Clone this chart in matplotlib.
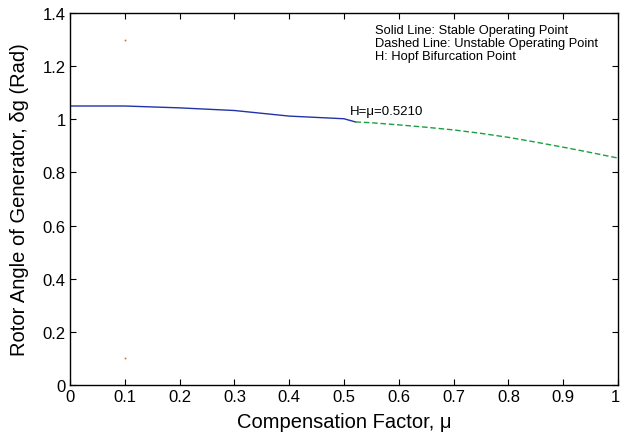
import numpy as np
import matplotlib.pyplot as plt
import matplotlib.transforms as mtransforms

plt.rcParams['font.family'] = ['Liberation Sans', 'DejaVu Sans']

# stable branch (solid) up to the Hopf point, unstable branch (dashed) after it
mu_stable = [0.0, 0.1, 0.2, 0.3, 0.4, 0.5, 0.521]
delta_stable = [1.05, 1.05, 1.043, 1.033, 1.012, 1.002, 0.990]
mu_unstable = [0.521, 0.55, 0.6, 0.65, 0.7, 0.75, 0.8, 0.85, 0.9, 0.95, 1.0]
delta_unstable = [0.990, 0.987, 0.979, 0.970, 0.960, 0.947, 0.932, 0.914, 0.895, 0.875, 0.854]
mu_hopf = 0.5210

# stray markers
mu_marks = [0.1, 0.1]
delta_marks = [1.3, 0.1]

fig = plt.figure(figsize=(6.2, 4.39), dpi=100)
ax = fig.add_axes([70/620, 1 - 386/439, 548/620, 372/439])

ax.plot(mu_stable, delta_stable, color='#2233aa', lw=1.0)
ax.plot(mu_unstable, delta_unstable, color='#1aa040', lw=1.0, ls=(0, (4, 2)))
ax.plot(mu_marks, delta_marks, ls='none', marker='s', ms=1.2, color='#e8601a', mec='none')

ax.text(0.511, 1.02, f'H=\u03bc={mu_hopf:.4f}', fontsize=9.5)
ax.text(0.557, 1.36,
        'Solid Line: Stable Operating Point\nDashed Line: Unstable Operating Point\nH: Hopf Bifurcation Point',
        fontsize=9.3, va='top', linespacing=1.12)

ax.set_xlim(0, 1)
ax.set_ylim(0, 1.4)
ax.set_xticks(np.arange(0, 1.01, 0.1))
ax.set_xticklabels(['0', '0.1', '0.2', '0.3', '0.4', '0.5', '0.6', '0.7', '0.8', '0.9', '1'])
ax.set_yticks(np.arange(0, 1.41, 0.2))
ax.set_yticklabels(['0', '0.2', '0.4', '0.6', '0.8', '1', '1.2', '1.4'])
ax.tick_params(direction='in', top=True, right=True, labelsize=12, length=4, width=0.8, pad=3)
for s in ax.spines.values():
    s.set_linewidth(1.0)

# keep the last x tick label inside the figure
last = ax.get_xticklabels()[-1]
last.set_transform(last.get_transform() + mtransforms.ScaledTranslation(-3/100, 0, fig.dpi_scale_trans))

ax.set_xlabel('Compensation Factor, \u03bc', fontsize=14.5, labelpad=6)
ax.set_ylabel('Rotor Angle of Generator, \u03b4g (Rad)', fontsize=14.5, labelpad=10)

plt.savefig('out.png', dpi=100)
